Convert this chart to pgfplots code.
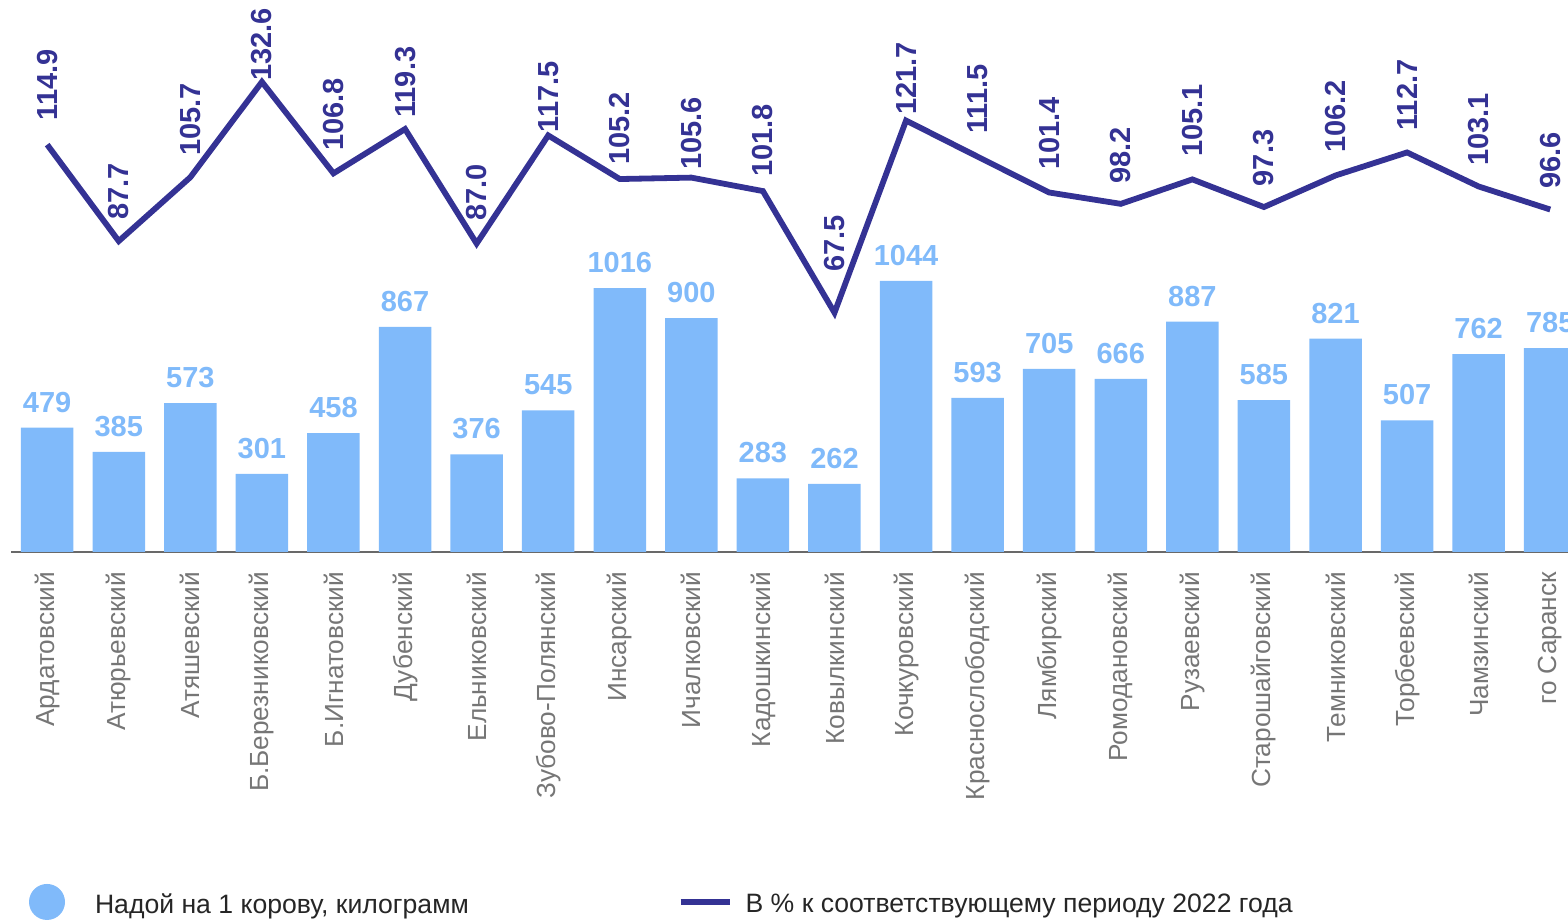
\documentclass[border=0pt]{standalone}
\usepackage{fontspec}
\setmainfont{Liberation Sans}
\usepackage{pgfplots}
\usepackage{pgfplotstable}
\pgfplotsset{compat=1.18}

\definecolor{barblue}{RGB}{128,186,250}
\definecolor{linenavy}{RGB}{52,50,148}
\definecolor{ticktext}{RGB}{118,118,118}
\definecolor{basegray}{RGB}{105,105,105}
\definecolor{legtext}{RGB}{38,38,38}

% x = district index, milk = kg per cow, pct = % of 2022, gap = label offset (pt)
\pgfplotstableread{
x milk pct gap
0 479 114.9 10.8
1 385 87.7 9.2
2 573 105.7 9.2
3 301 132.6 -0.8
4 458 106.8 10
5 867 119.3 4.2
6 376 87.0 10
7 545 117.5 0
8 1016 105.2 5.8
9 900 105.6 2.5
10 283 101.8 5.8
11 262 67.5 19
12 1044 121.7 1.5
13 593 111.5 10
14 705 101.4 10
15 666 98.2 8.7
16 887 105.1 10
17 585 97.3 9
18 821 106.2 10
19 507 112.7 9.5
20 762 103.1 9
21 785 96.6 9
}\data

\begin{document}
\begin{tikzpicture}
\path[use as bounding box] (0pt,0pt) rectangle (784pt,460pt);
\clip (0pt,0pt) rectangle (784pt,460pt);
\pgfplotsset{common/.style={
  scale only axis, width=787.3pt, height=276pt,
  at={(5.7pt,184pt)}, anchor=south west,
  xmin=-0.5, xmax=21.5, clip=false,
  /pgf/number format/assume math mode=true,
  /pgf/number format/1000 sep={}}}

\begin{axis}[common,
  ymin=0, ymax=2125,
  ybar, bar width=26.25pt,
  axis x line*=bottom, axis y line=none,
  x axis line style={-, draw=basegray, line width=0.75pt},
  xtick={0,...,21}, major tick length=0pt,
  xticklabels={Ардатовский, Атюрьевский, Атяшевский, Б.Березниковский,
    Б.Игнатовский, Дубенский, Ельниковский, Зубово-Полянский, Инсарский,
    Ичалковский, Кадошкинский, Ковылкинский, Кочкуровский, Краснослободский,
    Лямбирский, Ромодановский, Рузаевский, Старошайговский, Темниковский,
    Торбеевский, Чамзинский, го Саранск},
  xticklabel style={yshift=-9.85pt, rotate=90, anchor=east, inner sep=0pt,
    font=\fontsize{13.1pt}{15pt}\selectfont, text=ticktext},
  nodes near coords,
  every node near coord/.append style={anchor=south, inner sep=0pt, yshift=7.4pt,
    font=\bfseries\fontsize{14.5pt}{16pt}\selectfont, text=barblue},
  ]
\addplot[fill=barblue, draw=none] table[x=x, y=milk] {\data};
\end{axis}

\begin{axis}[common,
  ymin=0, ymax=155.7,
  hide axis,
  legend columns=2,
  legend cell align=left,
  legend style={at={(axis description cs:0.01118,-0.634)}, anchor=west,
    draw=none, fill=none, inner sep=0pt, outer sep=0pt,
    column sep=0pt, nodes={inner sep=0pt, yshift=-1.5pt},
    font=\fontsize{13.3pt}{15pt}\selectfont, text=legtext},
  ]
\addlegendimage{legend image code/.code={
  \fill[barblue, draw=none] (9pt,0pt) circle (9pt);
  \path[draw=none, fill=none] (0pt,0pt) -- (33pt,0pt);}}
\addlegendentry{\makebox[291.5pt][l]{Надой на 1 корову, килограмм}}
\addplot[linenavy, line width=2.9pt,
  point meta=y,
  visualization depends on={\thisrow{gap} \as \lgap},
  nodes near coords={\pgfmathprintnumber[fixed, fixed zerofill, precision=1]{\pgfplotspointmeta}},
  every node near coord/.append style={yshift=\lgap pt, rotate=90, anchor=west,
    inner sep=0pt, font=\bfseries\fontsize{14.5pt}{16pt}\selectfont, text=linenavy},
  legend image code/.code={
    \draw[linenavy, line width=2.6pt] (0pt,0pt) -- (24.5pt,0pt);
    \path[draw=none, fill=none] (0pt,0pt) -- (32.5pt,0pt);}]
  table[x=x, y=pct] {\data};
\addlegendentry{В \% к соответствующему периоду 2022 года}
\end{axis}
\end{tikzpicture}
\end{document}
